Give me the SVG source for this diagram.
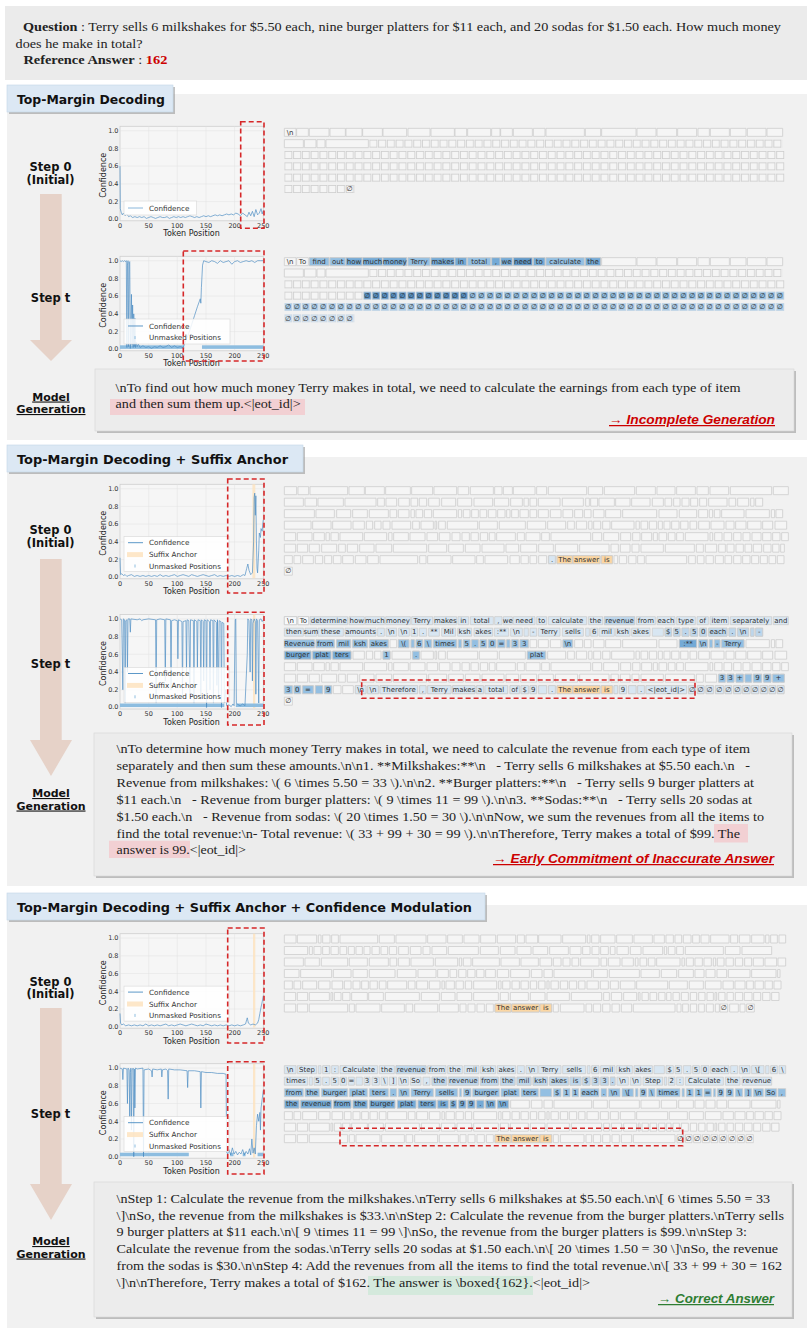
<svg xmlns="http://www.w3.org/2000/svg" width="812" height="1334" viewBox="0 0 812 1334">
<style>
.q{font-family:"Liberation Serif",serif;font-size:13.5px;fill:#222}
.hdr{font-family:"DejaVu Sans",sans-serif;font-weight:bold;font-size:13px;fill:#111}
.step{font-family:"DejaVu Sans",sans-serif;font-weight:bold;font-size:11.5px;fill:#111;text-anchor:middle}
.mg{font-family:"DejaVu Sans",sans-serif;font-weight:bold;font-size:11px;fill:#111;text-anchor:middle;text-decoration:underline}
.gen{font-family:"Liberation Serif",serif;font-size:13.5px;fill:#222}
.res{font-family:"Liberation Sans",sans-serif;font-weight:bold;font-style:italic;font-size:12.5px;text-decoration:underline}
.ty{font-family:"DejaVu Sans",sans-serif;font-size:6.5px;fill:#333;text-anchor:end}
.tx{font-family:"DejaVu Sans",sans-serif;font-size:6.5px;fill:#333;text-anchor:middle}
.axl{font-family:"DejaVu Sans",sans-serif;font-size:8px;fill:#222;text-anchor:middle}
.leg{font-family:"DejaVu Sans",sans-serif;font-size:7.2px;fill:#333}
.pa{fill:#f6f6f6;stroke:#cfcfcf;stroke-width:0.8}
.gr{fill:none;stroke:#e2e2e2;stroke-width:0.5}
.lg{fill:#fff;fill-opacity:0.85;stroke:#d8d8d8;stroke-width:0.6}
.cl{fill:none;stroke:#4a8cc2;stroke-width:0.8;stroke-opacity:0.85;vector-effect:non-scaling-stroke;stroke-linejoin:round}
.um{fill:#8dbde0}
.sa{fill:#fde3bf;fill-opacity:0.85}
.rd{fill:none;stroke:#d62728;stroke-width:1.6;stroke-dasharray:5 3}
.tk{font-family:"DejaVu Sans",sans-serif;font-size:21px;fill:#333;text-anchor:middle}
.b{stroke:#cdcdcd;stroke-width:2.4}
.e{fill:#f5f5f5}.p0{fill:#f7f9fb}.p1{fill:#d8e6f2}.p2{fill:#bcd6ec}.p3{fill:#93bfe2}.p4{fill:#74aad6}.p5{fill:#5f98c9}.po{fill:#fbd6a3}
.arr{fill:#e6d2c8}
</style>
<defs>
<pattern id="cE" patternUnits="userSpaceOnUse" width="26.35" height="24"><rect x="1.2" y="1.2" width="21.6" height="21.6" fill="#f5f5f5" stroke="#cdcdcd" stroke-width="2.4"/></pattern>
<pattern id="cD" patternUnits="userSpaceOnUse" width="26.35" height="24"><rect x="1.2" y="1.2" width="21.6" height="21.6" fill="#5590c4" stroke="#a9bfd3" stroke-width="2.4"/></pattern>
<pattern id="cM" patternUnits="userSpaceOnUse" width="26.35" height="24"><rect x="1.2" y="1.2" width="21.6" height="21.6" fill="#8fbde0" stroke="#b8cde0" stroke-width="2.4"/></pattern>
<pattern id="cM2" patternUnits="userSpaceOnUse" width="26.35" height="24"><rect x="1.2" y="1.2" width="21.6" height="21.6" fill="#a9cbe7" stroke="#c3d5e6" stroke-width="2.4"/></pattern>
<pattern id="cL" patternUnits="userSpaceOnUse" width="26.35" height="24"><rect x="1.2" y="1.2" width="21.6" height="21.6" fill="#cddfee" stroke="#cdd9e4" stroke-width="2.4"/></pattern>
<path id="s1r1" d="M13 0H48V24H13ZM50 0H85V24H50ZM88 0H147V24H88ZM150 0H196V24H150ZM198 0H246V24H198ZM248 0H307V24H248ZM309 0H380V24H309ZM384 0H450V24H384ZM453 0H523V24H453ZM525 0H560V24H525ZM563 0H632V24H563ZM635 0H660V24H635ZM662 0H697V24H662ZM700 0H757V24H700ZM760 0H795V24H760ZM798 0H913V24H798ZM916 0H962V24H916ZM965 0H1068V24H965ZM1071 0H1128V24H1071ZM1131 0H1190V24H1131ZM1193 0H1250V24H1193ZM1254 0H1288V24H1254ZM1291 0H1348V24H1291ZM1351 0H1398V24H1351ZM1402 0H1458V24H1402ZM1461 0H1508V24H1461Z"/>
<path id="s1r2" d="M13 0H70V24H13ZM73 0H108V24H73ZM111 0H135V24H111ZM138 0H265V24H138Z"/>
<path id="s2r1" d="M13 0H50V24H13ZM54 0H86V24H54ZM90 0H203V24H90ZM207 0H253V24H207ZM256 0H313V24H256ZM317 0H391V24H317ZM395 0H458V24H395ZM462 0H530V24H462ZM534 0H566V24H534ZM571 0H640V24H571ZM644 0H666V24H644ZM670 0H697V24H670ZM700 0H765V24H700ZM770 0H800V24H770ZM805 0H920V24H805ZM925 0H968V24H925ZM973 0H1064V24H973ZM1069 0H1126V24H1069ZM1131 0H1185V24H1131ZM1190 0H1246V24H1190ZM1251 0H1285V24H1251ZM1290 0H1346V24H1290ZM1351 0H1475V24H1351ZM1480 0H1525V24H1480Z"/>
<path id="s2r2" d="M13 0H70V24H13ZM75 0H110V24H75ZM114 0H190V24H114ZM195 0H288V24H195ZM293 0H313V24H293ZM318 0H350V24H318ZM356 0H388V24H356ZM393 0H413V24H393ZM418 0H440V24H418ZM446 0H478V24H446ZM485 0H527V24H485ZM533 0H575V24H533ZM582 0H638V24H582ZM643 0H686V24H643ZM692 0H727V24H692ZM732 0H745V24H732ZM750 0H770V24H750ZM775 0H840V24H775ZM847 0H910V24H847ZM917 0H928V24H917ZM932 0H953V24H932ZM957 0H1003V24H957ZM1007 0H1050V24H1007ZM1055 0H1110V24H1055ZM1117 0H1150V24H1117ZM1155 0H1175V24H1155ZM1181 0H1200V24H1181ZM1206 0H1227V24H1206ZM1232 0H1253V24H1232ZM1259 0H1280V24H1259ZM1286 0H1341V24H1286ZM1347 0H1367V24H1347ZM1373 0H1406V24H1373ZM1412 0H1422V24H1412ZM1427 0H1448V24H1427Z"/>
<path id="s2r3" d="M13 0H103V24H13ZM108 0H163V24H108ZM170 0H212V24H170ZM218 0H262V24H218ZM268 0H325V24H268ZM330 0H350V24H330ZM355 0H387V24H355ZM393 0H403V24H393ZM408 0H428V24H408ZM433 0H455V24H433ZM460 0H530V24H460ZM535 0H545V24H535ZM550 0H570V24H550ZM575 0H595V24H575ZM600 0H620V24H600ZM625 0H648V24H625ZM653 0H675V24H653ZM680 0H690V24H680ZM695 0H715V24H695ZM720 0H745V24H720ZM750 0H770V24H750ZM775 0H805V24H775ZM811 0H843V24H811ZM849 0H878V24H849ZM884 0H908V24H884ZM913 0H933V24H913ZM940 0H972V24H940ZM977 0H1022V24H977ZM1028 0H1130V24H1028ZM1137 0H1191V24H1137ZM1198 0H1250V24H1198ZM1256 0H1283V24H1256ZM1288 0H1298V24H1288ZM1303 0H1320V24H1303ZM1325 0H1392V24H1325ZM1398 0H1468V24H1398ZM1474 0H1484V24H1474ZM1488 0H1508V24H1488Z"/>
<path id="s2r4" d="M13 0H93V24H13ZM98 0H153V24H98ZM158 0H213V24H158ZM219 0H253V24H219ZM259 0H278V24H259ZM284 0H303V24H284ZM309 0H330V24H309ZM336 0H392V24H336ZM398 0H418V24H398ZM423 0H460V24H423ZM465 0H470V24H465ZM476 0H496V24H476ZM502 0H593V24H502ZM598 0H652V24H598ZM658 0H736V24H658ZM742 0H797V24H742ZM803 0H857V24H803ZM863 0H883V24H863ZM889 0H920V24H889ZM926 0H936V24H926ZM941 0H962V24H941ZM968 0H990V24H968ZM995 0H1062V24H995ZM1068 0H1078V24H1068ZM1083 0H1103V24H1083ZM1108 0H1130V24H1108ZM1135 0H1147V24H1135ZM1152 0H1170V24H1152ZM1175 0H1197V24H1175ZM1202 0H1224V24H1202ZM1230 0H1250V24H1230ZM1256 0H1288V24H1256ZM1293 0H1332V24H1293ZM1338 0H1362V24H1338ZM1367 0H1398V24H1367ZM1403 0H1443V24H1403ZM1448 0H1478V24H1448ZM1485 0H1520V24H1485Z"/>
<path id="s2r5" d="M13 0H47V24H13ZM52 0H96V24H52ZM101 0H133V24H101ZM138 0H148V24H138ZM153 0H175V24H153ZM180 0H248V24H180ZM253 0H320V24H253ZM326 0H336V24H326ZM341 0H385V24H341ZM390 0H435V24H390ZM441 0H473V24H441ZM478 0H510V24H478ZM516 0H540V24H516ZM546 0H568V24H546ZM573 0H595V24H573ZM601 0H623V24H601ZM628 0H645V24H628ZM650 0H706V24H650ZM712 0H733V24H712ZM738 0H780V24H738ZM785 0H808V24H785ZM813 0H932V24H813ZM938 0H965V24H938ZM971 0H1016V24H971ZM1022 0H1052V24H1022ZM1058 0H1080V24H1058ZM1085 0H1115V24H1085ZM1120 0H1132V24H1120ZM1137 0H1160V24H1137ZM1165 0H1185V24H1165ZM1190 0H1210V24H1190ZM1216 0H1284V24H1216ZM1290 0H1298V24H1290ZM1304 0H1326V24H1304ZM1332 0H1355V24H1332ZM1361 0H1383V24H1361ZM1389 0H1410V24H1389ZM1416 0H1443V24H1416ZM1448 0H1473V24H1448ZM1478 0H1500V24H1478ZM1505 0H1525V24H1505Z"/>
<path id="s2r6" d="M13 0H47V24H13ZM52 0H83V24H52ZM88 0H118V24H88ZM125 0H170V24H125ZM176 0H196V24H176ZM202 0H233V24H202ZM239 0H282V24H239ZM288 0H335V24H288ZM340 0H440V24H340ZM446 0H500V24H446ZM506 0H550V24H506ZM556 0H600V24H556ZM606 0H672V24H606ZM678 0H716V24H678ZM722 0H770V24H722ZM776 0H820V24H776ZM826 0H893V24H826ZM899 0H987V24H899ZM993 0H1015V24H993ZM1021 0H1050V24H1021ZM1056 0H1077V24H1056ZM1083 0H1150V24H1083ZM1156 0H1243V24H1156ZM1249 0H1270V24H1249ZM1276 0H1310V24H1276ZM1316 0H1336V24H1316ZM1341 0H1362V24H1341ZM1368 0H1390V24H1368ZM1395 0H1415V24H1395ZM1420 0H1445V24H1420ZM1451 0H1473V24H1451ZM1478 0H1497V24H1478ZM1502 0H1513V24H1502Z"/>
<path id="s2r7" d="M13 0H37V24H13ZM42 0H62V24H42ZM68 0H100V24H68ZM106 0H128V24H106ZM134 0H155V24H134ZM160 0H183V24H160ZM188 0H220V24H188ZM226 0H258V24H226ZM263 0H295V24H263ZM300 0H413V24H300ZM419 0H438V24H419ZM443 0H513V24H443ZM518 0H585V24H518ZM590 0H610V24H590ZM615 0H683V24H615ZM690 0H718V24H690ZM723 0H745V24H723ZM750 0H770V24H750ZM776 0H800V24H776ZM806 0H826V24H806ZM831 0H877V24H831ZM879 0H960V24H879ZM964 0H997V24H964ZM1002 0H1013V24H1002ZM1018 0H1040V24H1018ZM1046 0H1068V24H1046ZM1073 0H1093V24H1073ZM1098 0H1220V24H1098ZM1226 0H1246V24H1226ZM1252 0H1272V24H1252ZM1278 0H1300V24H1278ZM1306 0H1330V24H1306ZM1335 0H1355V24H1335ZM1361 0H1383V24H1361ZM1388 0H1410V24H1388ZM1415 0H1436V24H1415ZM1441 0H1462V24H1441ZM1467 0H1487V24H1467ZM1492 0H1512V24H1492Z"/>
<path id="s3r1" d="M13 0H48V24H13ZM52 0H110V24H52ZM115 0H123V24H115ZM128 0H150V24H128ZM155 0H175V24H155ZM180 0H293V24H180ZM298 0H343V24H298ZM348 0H438V24H348ZM443 0H498V24H443ZM503 0H547V24H503ZM552 0H597V24H552ZM602 0H647V24H602ZM652 0H707V24H652ZM712 0H733V24H712ZM738 0H773V24H738ZM776 0H843V24H776ZM848 0H917V24H848ZM922 0H930V24H922ZM935 0H957V24H935ZM962 0H1005V24H962ZM1010 0H1057V24H1010ZM1062 0H1117V24H1062ZM1122 0H1153V24H1122ZM1158 0H1180V24H1158ZM1185 0H1205V24H1185ZM1210 0H1233V24H1210ZM1238 0H1258V24H1238ZM1263 0H1287V24H1263ZM1292 0H1347V24H1292ZM1352 0H1373V24H1352ZM1378 0H1410V24H1378ZM1415 0H1452V24H1415ZM1457 0H1467V24H1457ZM1472 0H1492V24H1472ZM1497 0H1517V24H1497Z"/>
<path id="s3r2" d="M13 0H83V24H13ZM88 0H97V24H88ZM102 0H123V24H102ZM128 0H148V24H128ZM153 0H175V24H153ZM180 0H200V24H180ZM205 0H223V24H205ZM228 0H247V24H228ZM252 0H270V24H252ZM276 0H298V24H276ZM303 0H323V24H303ZM328 0H350V24H328ZM356 0H385V24H356ZM391 0H423V24H391ZM429 0H450V24H429ZM456 0H500V24H456ZM505 0H595V24H505ZM601 0H655V24H601ZM661 0H705V24H661ZM711 0H753V24H711ZM759 0H803V24H759ZM809 0H865V24H809ZM870 0H903V24H870ZM908 0H930V24H908ZM936 0H957V24H936ZM962 0H985V24H962ZM991 0H1005V24H991ZM1011 0H1045V24H1011ZM1051 0H1083V24H1051ZM1089 0H1148V24H1089ZM1153 0H1160V24H1153ZM1165 0H1185V24H1165ZM1190 0H1210V24H1190ZM1216 0H1330V24H1216ZM1336 0H1380V24H1336ZM1386 0H1475V24H1386Z"/>
<path id="s3r3" d="M13 0H70V24H13ZM75 0H118V24H75ZM124 0H203V24H124ZM208 0H262V24H208ZM268 0H325V24H268ZM330 0H350V24H330ZM355 0H388V24H355ZM393 0H460V24H393ZM466 0H533V24H466ZM538 0H545V24H538ZM550 0H573V24H550ZM578 0H658V24H578ZM663 0H718V24H663ZM723 0H775V24H723ZM780 0H815V24H780ZM820 0H843V24H820ZM849 0H870V24H849ZM876 0H896V24H876ZM902 0H957V24H902ZM963 0H980V24H963ZM985 0H1020V24H985ZM1026 0H1060V24H1026ZM1066 0H1074V24H1066ZM1080 0H1100V24H1080ZM1105 0H1125V24H1105ZM1130 0H1200V24H1130ZM1206 0H1213V24H1206ZM1219 0H1240V24H1219ZM1245 0H1267V24H1245ZM1272 0H1294V24H1272ZM1300 0H1307V24H1300ZM1312 0H1332V24H1312ZM1338 0H1360V24H1338ZM1366 0H1388V24H1366ZM1394 0H1415V24H1394ZM1420 0H1450V24H1420ZM1455 0H1490V24H1455ZM1494 0H1517V24H1494Z"/>
<path id="s3r4" d="M13 0H57V24H13ZM62 0H155V24H62ZM160 0H213V24H160ZM219 0H262V24H219ZM268 0H345V24H268ZM352 0H408V24H352ZM414 0H468V24H414ZM473 0H505V24H473ZM510 0H530V24H510ZM536 0H558V24H536ZM563 0H585V24H563ZM590 0H612V24H590ZM617 0H646V24H617ZM652 0H686V24H652ZM692 0H748V24H692ZM754 0H786V24H754ZM792 0H817V24H792ZM822 0H935V24H822ZM940 0H982V24H940ZM988 0H1078V24H988ZM1083 0H1138V24H1083ZM1144 0H1190V24H1144ZM1196 0H1240V24H1196ZM1245 0H1272V24H1245ZM1278 0H1305V24H1278ZM1311 0H1340V24H1311ZM1345 0H1410V24H1345ZM1415 0H1488V24H1415ZM1493 0H1500V24H1493Z"/>
<path id="s3r5" d="M13 0H37V24H13ZM42 0H62V24H42ZM68 0H110V24H68ZM116 0H150V24H116ZM156 0H188V24H156ZM193 0H213V24H193ZM219 0H240V24H219ZM245 0H265V24H245ZM270 0H292V24H270ZM298 0H318V24H298ZM323 0H380V24H323ZM385 0H405V24H385ZM410 0H443V24H410ZM448 0H480V24H448ZM486 0H493V24H486ZM498 0H523V24H498ZM528 0H550V24H528ZM556 0H575V24H556ZM581 0H650V24H581ZM656 0H663V24H656ZM668 0H690V24H668ZM696 0H718V24H696ZM723 0H745V24H723ZM751 0H770V24H751ZM776 0H795V24H776ZM801 0H807V24H801ZM813 0H835V24H813ZM841 0H863V24H841ZM868 0H890V24H868ZM896 0H915V24H896ZM921 0H955V24H921ZM961 0H985V24H961ZM991 0H1015V24H991ZM1021 0H1065V24H1021ZM1070 0H1163V24H1070ZM1168 0H1222V24H1168ZM1228 0H1270V24H1228ZM1276 0H1323V24H1276ZM1329 0H1360V24H1329ZM1365 0H1395V24H1365ZM1400 0H1420V24H1400ZM1425 0H1450V24H1425ZM1455 0H1477V24H1455ZM1482 0H1503V24H1482Z"/>
<path id="s3r6" d="M13 0H47V24H13ZM52 0H83V24H52ZM88 0H148V24H88ZM153 0H158V24H153ZM163 0H183V24H163ZM188 0H210V24H188ZM215 0H262V24H215ZM266 0H310V24H266ZM316 0H418V24H316ZM424 0H478V24H424ZM484 0H525V24H484ZM531 0H575V24H531ZM581 0H655V24H581ZM661 0H685V24H661ZM691 0H745V24H691ZM751 0H795V24H751ZM801 0H868V24H801ZM874 0H965V24H874ZM971 0H988V24H971ZM994 0H1025V24H994ZM1031 0H1070V24H1031ZM1075 0H1080V24H1075ZM1086 0H1105V24H1086ZM1110 0H1130V24H1110ZM1136 0H1155V24H1136ZM1160 0H1173V24H1160ZM1179 0H1198V24H1179ZM1204 0H1225V24H1204ZM1231 0H1250V24H1231ZM1256 0H1275V24H1256ZM1281 0H1300V24H1281ZM1305 0H1310V24H1305ZM1316 0H1335V24H1316ZM1341 0H1360V24H1341ZM1366 0H1388V24H1366ZM1393 0H1416V24H1393ZM1421 0H1442V24H1421ZM1448 0H1470V24H1448ZM1475 0H1497V24H1475Z"/>
<path id="s3r7a" d="M13 0H47V24H13ZM52 0H83V24H52ZM88 0H203V24H88ZM208 0H223V24H208ZM228 0H300V24H228ZM305 0H373V24H305ZM378 0H398V24H378ZM404 0H473V24H404ZM478 0H535V24H478ZM540 0H558V24H540ZM564 0H585V24H564ZM591 0H613V24H591ZM619 0H640V24H619ZM645 0H693V24H645ZM695 0H778V24H695ZM780 0H815V24H780ZM820 0H835V24H820ZM841 0H912V24H841ZM918 0H935V24H918ZM940 0H962V24H940ZM968 0H990V24H968ZM996 0H1018V24H996ZM1024 0H1055V24H1024ZM1060 0H1185V24H1060Z"/>
<path id="s3r7b" d="M1191 0H1203V24H1191ZM1208 0H1225V24H1208ZM1231 0H1250V24H1231ZM1256 0H1273V24H1256ZM1279 0H1300V24H1279ZM1306 0H1318V24H1306ZM1320 0H1343V24H1320ZM1349 0H1375V24H1349ZM1380 0H1395V24H1380ZM1400 0H1423V24H1400Z"/>
<path id="po3" d="M831 0H877V24H831ZM879 0H960V24H879ZM964 0H997V24H964Z"/>
</defs>

<rect width="812" height="1334" fill="#fff"/>

<!-- Question -->
<g id="question">
<rect x="5" y="6" width="802" height="74" fill="#ebebeb"/>
<text class="q" x="23" y="31" textLength="758" lengthAdjust="spacingAndGlyphs"><tspan font-weight="bold">Question</tspan> : Terry sells 6 milkshakes for $5.50 each, nine burger platters for $11 each, and 20 sodas for $1.50 each. How much money</text>
<text class="q" x="15.6" y="47.5" textLength="127" lengthAdjust="spacingAndGlyphs">does he make in total?</text>
<text class="q" x="23.4" y="64" textLength="144" lengthAdjust="spacingAndGlyphs"><tspan font-weight="bold">Reference Answer</tspan> : <tspan font-weight="bold" fill="#cc0000">162</tspan></text>
</g>

<!-- Section backgrounds and headers -->
<g id="sections">
<rect x="7" y="94" width="800" height="346" fill="#f1f1f1"/>
<rect x="7" y="457" width="800" height="429" fill="#f1f1f1"/>
<rect x="7" y="905" width="800" height="423" fill="#f1f1f1"/>
</g>
<g id="header-1">
<rect x="9" y="87" width="166" height="27" fill="#9a9a9a" opacity="0.6"/>
<rect x="7" y="85" width="166" height="27" fill="#dce8f4" stroke="#c4d5e7" stroke-width="0.6"/>
<text class="hdr" x="17" y="103.5" textLength="148" lengthAdjust="spacingAndGlyphs">Top-Margin Decoding</text>
</g>
<g id="header-2">
<rect x="9" y="447" width="296" height="27" fill="#9a9a9a" opacity="0.6"/>
<rect x="7" y="445" width="296" height="27" fill="#dce8f4" stroke="#c4d5e7" stroke-width="0.6"/>
<text class="hdr" x="17" y="464" textLength="271" lengthAdjust="spacingAndGlyphs">Top-Margin Decoding + Suffix Anchor</text>
</g>
<g id="header-3">
<rect x="9" y="895" width="478" height="27" fill="#9a9a9a" opacity="0.6"/>
<rect x="7" y="893" width="478" height="27" fill="#dce8f4" stroke="#c4d5e7" stroke-width="0.6"/>
<text class="hdr" x="17" y="912" textLength="455" lengthAdjust="spacingAndGlyphs">Top-Margin Decoding + Suffix Anchor + Confidence Modulation</text>
</g>

<!-- Connectors: step arrows -->
<g id="connectors">
<rect class="arr" x="40" y="194" width="21.7" height="146"/>
<polygon class="arr" points="30,340 72,340 51,361"/>
<rect class="arr" x="40" y="559" width="21.7" height="181"/>
<polygon class="arr" points="30,740 72,740 51,776"/>
<rect class="arr" x="40" y="1008" width="21.7" height="176"/>
<polygon class="arr" points="30,1184 72,1184 51,1220"/>
</g>

<!-- Step labels -->
<g id="labels">
<text class="step" x="50.5" y="171">Step 0</text>
<text class="step" x="50.5" y="183.5">(Initial)</text>
<text class="step" x="50.5" y="302">Step t</text>
<text class="mg" x="51" y="400.5">Model</text>
<text class="mg" x="51" y="413">Generation</text>
<text class="step" x="50.5" y="534">Step 0</text>
<text class="step" x="50.5" y="546.5">(Initial)</text>
<text class="step" x="50.5" y="668">Step t</text>
<text class="mg" x="51" y="797">Model</text>
<text class="mg" x="51" y="809.5">Generation</text>
<text class="step" x="50.5" y="985.5">Step 0</text>
<text class="step" x="50.5" y="998">(Initial)</text>
<text class="step" x="50.5" y="1118">Step t</text>
<text class="mg" x="51" y="1245">Model</text>
<text class="mg" x="51" y="1257.5">Generation</text>
</g>

<!-- Chart S1 step 0 -->
<g id="chart-s1-step0" transform="translate(120,219.3)">
<rect class="pa" x="0" y="-93" width="143.3" height="94.5"/>
<path class="gr" d="M28.7-93V1.5M57.3-93V1.5M86-93V1.5M114.6-93V1.5M0-17.7H143.3M0-35.4H143.3M0-53.2H143.3M0-70.9H143.3M0-88.6H143.3"/>
<text class="ty" x="-1.5" y="1.8">0.0</text><text class="ty" x="-1.5" y="-15.4">0.2</text><text class="ty" x="-1.5" y="-33.1">0.4</text><text class="ty" x="-1.5" y="-50.9">0.6</text><text class="ty" x="-1.5" y="-68.6">0.8</text><text class="ty" x="-1.5" y="-86.3">1.0</text>
<text class="tx" x="0" y="8.4">0</text><text class="tx" x="28.7" y="8.4">50</text><text class="tx" x="57.3" y="8.4">100</text><text class="tx" x="86" y="8.4">150</text><text class="tx" x="114.6" y="8.4">200</text><text class="tx" x="143.3" y="8.4">250</text>
<text class="axl" x="71.6" y="17">Token Position</text>
<text class="axl" transform="translate(-14.5,-44) rotate(-90)">Confidence</text>
<g transform="scale(0.5733,-0.886)">
<polyline class="cl" points="0,60 0.5,12 2,8 4,5 6,7 9,4 12,6 15,3 18,4 22,2 26,3 30,2 34,3 38,2 42,3 46,1 50,2 54,3 58,2 62,1 66,2 70,3 74,2 78,2 82,3 86,1 90,2 94,3 98,2 102,3 106,2 110,3 114,2 118,3 122,4 126,3 130,2 134,3 138,2 142,3 146,4 150,3 154,4 158,3 162,4 166,5 170,4 174,5 178,4 182,5 186,6 190,5 194,6 198,5 202,7 206,6 210,4 214,7 218,5 222,3 225,8 228,4 231,9 234,3 237,11 240,5 243,7 246,12 248,6 250,10"/>
</g>
<rect class="lg" x="4" y="-18.3" width="72.7" height="14"/>
<line x1="8" y1="-11.3" x2="23" y2="-11.3" stroke="#7fb0d8" stroke-width="0.9"/>
<text class="leg" x="29" y="-8.8">Confidence</text>
</g>

<!-- Chart S1 step t -->
<g id="chart-s1-stept" transform="translate(120,349.3)">
<rect class="pa" x="0" y="-93" width="143.3" height="94.5"/>
<path class="gr" d="M28.7-93V1.5M57.3-93V1.5M86-93V1.5M114.6-93V1.5M0-17.7H143.3M0-35.4H143.3M0-53.2H143.3M0-70.9H143.3M0-88.6H143.3"/>
<text class="ty" x="-1.5" y="1.8">0.0</text><text class="ty" x="-1.5" y="-15.4">0.2</text><text class="ty" x="-1.5" y="-33.1">0.4</text><text class="ty" x="-1.5" y="-50.9">0.6</text><text class="ty" x="-1.5" y="-68.6">0.8</text><text class="ty" x="-1.5" y="-86.3">1.0</text>
<text class="tx" x="0" y="8.4">0</text><text class="tx" x="28.7" y="8.4">50</text><text class="tx" x="57.3" y="8.4">100</text><text class="tx" x="86" y="8.4">150</text><text class="tx" x="114.6" y="8.4">200</text><text class="tx" x="143.3" y="8.4">250</text>
<text class="axl" x="71.6" y="17">Token Position</text>
<text class="axl" transform="translate(-14.5,-44) rotate(-90)">Confidence</text>
<g transform="scale(0.5733,-0.886)">
<rect class="um" x="0" y="0.5" width="112" height="4"/>
<rect class="um" x="143" y="0.5" width="107" height="4"/>
<polyline class="cl" points="0,100 2,99 4,100 6,99 8,100 10,99 11,100 12,2 13,95 14,100 15,3 16,98 17,99 18,1 20,62 21,5 22,50 23,2 24,40 25,3 26,35 27,2 28,8 30,3 32,6 35,2 40,4 45,2 50,3 55,1 60,3 65,2 70,4 75,2 80,3 85,5 90,2 95,4 100,2 105,3 110,2 112,5 115,10 120,18 125,28 130,38 135,48 140,57 141,52 142,70 144,95 146,100 150,99 155,98 160,100 165,99 170,97 175,100 180,98 185,99 190,100 195,96 200,99 205,100 210,98 215,99 220,100 225,99 230,100 235,98 240,100 245,100 250,100"/>
</g>
<rect class="lg" x="4" y="-30.3" width="106" height="25"/>
<line x1="8" y1="-23.3" x2="23" y2="-23.3" stroke="#4a8cc2" stroke-width="0.9"/>
<text class="leg" x="29" y="-20.8">Confidence</text>
<rect class="um" x="14.5" y="-13.2" width="1" height="3"/>
<text class="leg" x="29" y="-9.1">Unmasked Positions</text>
</g>

<!-- Chart S2 step 0 -->
<g id="chart-s2-step0" transform="translate(120,577.3)">
<rect class="pa" x="0" y="-93" width="143.3" height="94.5"/>
<path class="gr" d="M28.7-93V1.5M57.3-93V1.5M86-93V1.5M114.6-93V1.5M0-17.7H143.3M0-35.4H143.3M0-53.2H143.3M0-70.9H143.3M0-88.6H143.3"/>
<text class="ty" x="-1.5" y="1.8">0.0</text><text class="ty" x="-1.5" y="-15.4">0.2</text><text class="ty" x="-1.5" y="-33.1">0.4</text><text class="ty" x="-1.5" y="-50.9">0.6</text><text class="ty" x="-1.5" y="-68.6">0.8</text><text class="ty" x="-1.5" y="-86.3">1.0</text>
<text class="tx" x="0" y="8.4">0</text><text class="tx" x="28.7" y="8.4">50</text><text class="tx" x="57.3" y="8.4">100</text><text class="tx" x="86" y="8.4">150</text><text class="tx" x="114.6" y="8.4">200</text><text class="tx" x="143.3" y="8.4">250</text>
<text class="axl" x="71.6" y="17">Token Position</text>
<text class="axl" transform="translate(-14.5,-44) rotate(-90)">Confidence</text>
<g transform="scale(0.5733,-0.886)">
<rect class="sa" x="231" y="-1" width="5" height="106"/>
<polyline class="cl" points="0,22 1,3 3,4 6,2 9,3 12,1 15,2 20,3 25,1 30,2 35,1 40,2 45,1 50,2 55,1 60,2 65,1 70,3 75,1 80,2 85,1 90,2 95,3 100,1 105,2 110,3 115,2 120,1 125,3 130,2 135,1 140,2 145,3 150,2 155,1 160,2 165,3 170,1 175,2 180,1 185,2 190,1 195,2 200,1 205,2 210,1 215,3 218,2 221,10 223,15 225,8 228,3 231,5 233,40 234,90 235,95 236,70 237,92 238,40 239,10 240,5 242,30 243,50 245,45 246,55 248,52 249,60 250,65"/>
</g>
<rect class="lg" x="4" y="-40.6" width="105" height="35"/>
<line x1="8" y1="-34.6" x2="23" y2="-34.6" stroke="#4a8cc2" stroke-width="0.9"/>
<text class="leg" x="29" y="-32.1">Confidence</text>
<rect class="sa" x="7" y="-25.2" width="16" height="5"/>
<text class="leg" x="29" y="-20.1">Suffix Anchor</text>
<rect class="um" x="14.5" y="-12.8" width="1" height="3"/>
<text class="leg" x="29" y="-8.8">Unmasked Positions</text>
</g>

<!-- Chart S2 step t -->
<g id="chart-s2-stept" transform="translate(120,707.5)">
<rect class="pa" x="0" y="-93" width="143.3" height="94.5"/>
<path class="gr" d="M28.7-93V1.5M57.3-93V1.5M86-93V1.5M114.6-93V1.5M0-17.7H143.3M0-35.4H143.3M0-53.2H143.3M0-70.9H143.3M0-88.6H143.3"/>
<text class="ty" x="-1.5" y="1.8">0.0</text><text class="ty" x="-1.5" y="-15.4">0.2</text><text class="ty" x="-1.5" y="-33.1">0.4</text><text class="ty" x="-1.5" y="-50.9">0.6</text><text class="ty" x="-1.5" y="-68.6">0.8</text><text class="ty" x="-1.5" y="-86.3">1.0</text>
<text class="tx" x="0" y="8.4">0</text><text class="tx" x="28.7" y="8.4">50</text><text class="tx" x="57.3" y="8.4">100</text><text class="tx" x="86" y="8.4">150</text><text class="tx" x="114.6" y="8.4">200</text><text class="tx" x="143.3" y="8.4">250</text>
<text class="axl" x="71.6" y="17">Token Position</text>
<text class="axl" transform="translate(-14.5,-44) rotate(-90)">Confidence</text>
<g transform="scale(0.5733,-0.886)">
<rect class="sa" x="232" y="-1" width="4" height="106"/>
<rect class="um" x="0" y="0.5" width="182" height="4"/>
<rect class="um" x="202" y="0.5" width="48" height="4"/>
<polyline class="cl" points="0,100 3,99 5,20 6,100 8,99 9,5 10,98 12,99 13,40 14,100 17,100 18,85 19,100 30,99 35,100 38,98 40,99 50,100 62,99 63,5 64,99 70,100 78,99 79,30 80,100 88,99 89,20 90,98 95,99 100,98 101,55 102,99 108,97 109,10 110,97 115,98 116,40 117,99 120,98 122,15 123,99 128,98 129,5 130,99 134,97 135,45 136,99 140,98 141,10 142,99 145,97 146,30 147,99 150,98 151,0 152,99 156,97 157,20 158,99 162,98 163,5 164,99 168,96 169,25 170,99 172,10 173,98 176,97 177,0 178,96 181,95 182,5 184,20 186,2 190,3 194,1 197,4 199,2 201,99 202,100 203,5 206,3 210,2 214,4 218,2 222,60 223,100 225,98 227,40 228,100 230,99 231,30 232,95 234,100 236,97 237,15 238,100 240,98 242,5 243,99 246,100 248,97 250,99"/>
</g>
<rect class="lg" x="4" y="-40" width="105" height="35"/>
<line x1="8" y1="-34" x2="23" y2="-34" stroke="#4a8cc2" stroke-width="0.9"/>
<text class="leg" x="29" y="-31.5">Confidence</text>
<rect class="sa" x="7" y="-24.6" width="16" height="5"/>
<text class="leg" x="29" y="-19.5">Suffix Anchor</text>
<rect class="um" x="14.5" y="-12.2" width="1" height="3"/>
<text class="leg" x="29" y="-8.2">Unmasked Positions</text>
</g>

<!-- Chart S3 step 0 -->
<g id="chart-s3-step0" transform="translate(120,1026.7)">
<rect class="pa" x="0" y="-93" width="143.3" height="94.5"/>
<path class="gr" d="M28.7-93V1.5M57.3-93V1.5M86-93V1.5M114.6-93V1.5M0-17.7H143.3M0-35.4H143.3M0-53.2H143.3M0-70.9H143.3M0-88.6H143.3"/>
<text class="ty" x="-1.5" y="1.8">0.0</text><text class="ty" x="-1.5" y="-15.4">0.2</text><text class="ty" x="-1.5" y="-33.1">0.4</text><text class="ty" x="-1.5" y="-50.9">0.6</text><text class="ty" x="-1.5" y="-68.6">0.8</text><text class="ty" x="-1.5" y="-86.3">1.0</text>
<text class="tx" x="0" y="8.4">0</text><text class="tx" x="28.7" y="8.4">50</text><text class="tx" x="57.3" y="8.4">100</text><text class="tx" x="86" y="8.4">150</text><text class="tx" x="114.6" y="8.4">200</text><text class="tx" x="143.3" y="8.4">250</text>
<text class="axl" x="71.6" y="17">Token Position</text>
<text class="axl" transform="translate(-14.5,-44) rotate(-90)">Confidence</text>
<g transform="scale(0.5733,-0.886)">
<rect class="sa" x="232" y="-1" width="4" height="106"/>
<polyline class="cl" points="0,15 1,4 3,2 6,3 10,1 15,2 20,1 25,2 30,1 35,2 40,1 45,3 50,1 55,2 60,1 65,2 70,1 75,2 80,3 85,1 90,2 95,1 100,2 105,3 110,2 115,1 120,2 125,3 130,2 135,1 140,2 145,1 150,3 155,2 160,1 165,2 170,1 175,2 180,1 185,2 190,1 195,2 200,1 205,2 210,1 215,2 219,3 221,8 222,10 224,4 228,2 232,3 236,2 240,4 242,8 244,15 246,22 248,28 250,35"/>
</g>
<rect class="lg" x="4" y="-40.6" width="105" height="35"/>
<line x1="8" y1="-34.6" x2="23" y2="-34.6" stroke="#4a8cc2" stroke-width="0.9"/>
<text class="leg" x="29" y="-32.1">Confidence</text>
<rect class="sa" x="7" y="-25.2" width="16" height="5"/>
<text class="leg" x="29" y="-20.1">Suffix Anchor</text>
<rect class="um" x="14.5" y="-12.8" width="1" height="3"/>
<text class="leg" x="29" y="-8.8">Unmasked Positions</text>
</g>

<!-- Chart S3 step t -->
<g id="chart-s3-stept" transform="translate(120,1156.7)">
<rect class="pa" x="0" y="-93" width="143.3" height="94.5"/>
<path class="gr" d="M28.7-93V1.5M57.3-93V1.5M86-93V1.5M114.6-93V1.5M0-17.7H143.3M0-35.4H143.3M0-53.2H143.3M0-70.9H143.3M0-88.6H143.3"/>
<text class="ty" x="-1.5" y="1.8">0.0</text><text class="ty" x="-1.5" y="-15.4">0.2</text><text class="ty" x="-1.5" y="-33.1">0.4</text><text class="ty" x="-1.5" y="-50.9">0.6</text><text class="ty" x="-1.5" y="-68.6">0.8</text><text class="ty" x="-1.5" y="-86.3">1.0</text>
<text class="tx" x="0" y="8.4">0</text><text class="tx" x="28.7" y="8.4">50</text><text class="tx" x="57.3" y="8.4">100</text><text class="tx" x="86" y="8.4">150</text><text class="tx" x="114.6" y="8.4">200</text><text class="tx" x="143.3" y="8.4">250</text>
<text class="axl" x="71.6" y="17">Token Position</text>
<text class="axl" transform="translate(-14.5,-44) rotate(-90)">Confidence</text>
<g transform="scale(0.5733,-0.886)">
<rect class="sa" x="232" y="-1" width="4" height="106"/>
<rect class="um" x="0" y="0.5" width="120" height="4"/>
<rect class="um" x="192" y="0.5" width="6" height="4"/><rect class="um" x="214" y="0.5" width="5" height="4"/><rect class="um" x="240" y="0.5" width="10" height="4"/>
<polyline class="cl" points="0,100 4,99 5,87 6,100 12,99 13,60 14,100 16,98 17,45 18,95 19,100 20,30 21,98 22,99 23,100 24,0 25,99 26,55 27,100 30,99 40,100 41,0 42,98 50,99 55,97 56,90 57,99 65,98 72,99 73,90 74,98 80,99 83,97 84,65 85,99 95,98 105,98 117,97 118,78 119,97 130,97 140,96 141,55 142,96 150,95 160,95 170,94 180,94 185,93 186,5 188,3 190,8 193,2 196,10 199,3 202,6 205,2 208,5 211,3 214,8 217,2 220,6 223,3 226,9 228,2 230,20 232,4 234,10 236,3 238,35 240,48 242,40 244,50 245,30 246,55 248,65 250,75"/>
</g>
<rect class="lg" x="4" y="-40" width="105" height="35"/>
<line x1="8" y1="-34" x2="23" y2="-34" stroke="#4a8cc2" stroke-width="0.9"/>
<text class="leg" x="29" y="-31.5">Confidence</text>
<rect class="sa" x="7" y="-24.6" width="16" height="5"/>
<text class="leg" x="29" y="-19.5">Suffix Anchor</text>
<rect class="um" x="14.5" y="-12.2" width="1" height="3"/>
<text class="leg" x="29" y="-8.2">Unmasked Positions</text>
</g>

<!-- Tokens S1 -->
<g id="tokens-s1" transform="translate(280,115) scale(0.333333)">
<use href="#s1r1" y="40" class="b e"/>
<use href="#s1r2" y="74" class="b e"/>
<rect transform="translate(268,74)" width="1238.4" height="24" fill="url(#cE)"/>
<rect transform="translate(13,108)" width="1502" height="24" fill="url(#cE)"/>
<rect transform="translate(13,142)" width="1502" height="24" fill="url(#cE)"/>
<rect transform="translate(13,176)" width="1502" height="24" fill="url(#cE)"/>
<rect transform="translate(13,210)" width="210.8" height="24" fill="url(#cE)"/>
<text class="tk" x="30.5" y="59">\n</text>
<text class="tk" x="208.5" y="229">∅</text>

<use href="#s1r1" y="428" class="b e"/>
<path class="b p3" transform="translate(0,428)" d="M88 0H147V24H88ZM150 0H196V24H150ZM384 0H450V24H384ZM563 0H632V24H563ZM798 0H913V24H798Z"/>
<path class="b p4" transform="translate(0,428)" d="M198 0H246V24H198ZM248 0H307V24H248ZM309 0H380V24H309ZM453 0H523V24H453ZM525 0H560V24H525ZM635 0H660V24H635ZM662 0H697V24H662ZM760 0H795V24H760ZM916 0H962V24H916Z"/>
<path class="b p5" transform="translate(0,428)" d="M700 0H757V24H700Z"/>
<text class="tk" y="447"><tspan x="30.5">\n</tspan><tspan x="67.5">To</tspan><tspan x="117.5">find</tspan><tspan x="173">out</tspan><tspan x="222">how</tspan><tspan x="277.5">much</tspan><tspan x="344.5">money</tspan><tspan x="417">Terry</tspan><tspan x="488">makes</tspan><tspan x="542.5">in</tspan><tspan x="597.5">total</tspan><tspan x="647.5">,</tspan><tspan x="679.5">we</tspan><tspan x="728.5">need</tspan><tspan x="777.5">to</tspan><tspan x="855.5">calculate</tspan><tspan x="939">the</tspan></text>
<use href="#s1r2" y="462" class="b e"/>
<rect transform="translate(268,462)" width="1238.4" height="24" fill="url(#cE)"/>
<rect transform="translate(13,496)" width="1502" height="24" fill="url(#cE)"/>
<rect transform="translate(13,530)" width="237.15" height="24" fill="url(#cE)"/>
<rect transform="translate(250.15,530)" width="316.2" height="24" fill="url(#cD)"/>
<rect transform="translate(566.35,530)" width="948.6" height="24" fill="url(#cM)"/>
<rect transform="translate(13,564)" width="1502" height="24" fill="url(#cM2)"/>
<rect transform="translate(13,598)" width="210.8" height="24" fill="url(#cL)"/>
<text class="tk" y="549" x="261.2 287.5 313.9 340.2 366.6 392.9 419.3 445.6 472 498.3 524.7 551 577.4 603.7 630.1 656.4 682.8 709.1 735.5 761.8 788.2 814.5 840.9 867.2 893.6 919.9 946.3 972.6 999 1025.3 1051.7 1078 1104.4 1130.7 1157.1 1183.4 1209.8 1236.1 1262.5 1288.8 1315.2 1341.5 1367.9 1394.2 1420.6 1446.9 1473.3 1499.6">∅∅∅∅∅∅∅∅∅∅∅∅∅∅∅∅∅∅∅∅∅∅∅∅∅∅∅∅∅∅∅∅∅∅∅∅∅∅∅∅∅∅∅∅∅∅∅∅</text>
<text class="tk" y="583" x="24 50.4 76.7 103.1 129.4 155.8 182.1 208.5 234.8 261.2 287.5 313.9 340.2 366.6 392.9 419.3 445.6 472 498.3 524.7 551 577.4 603.7 630.1 656.4 682.8 709.1 735.5 761.8 788.2 814.5 840.9 867.2 893.6 919.9 946.3 972.6 999 1025.3 1051.7 1078 1104.4 1130.7 1157.1 1183.4 1209.8 1236.1 1262.5 1288.8 1315.2 1341.5 1367.9 1394.2 1420.6 1446.9 1473.3 1499.6">∅∅∅∅∅∅∅∅∅∅∅∅∅∅∅∅∅∅∅∅∅∅∅∅∅∅∅∅∅∅∅∅∅∅∅∅∅∅∅∅∅∅∅∅∅∅∅∅∅∅∅∅∅∅∅∅∅</text>
<text class="tk" y="617" x="24 50.4 76.7 103.1 129.4 155.8 182.1 208.5">∅∅∅∅∅∅∅∅</text>
</g>

<!-- Tokens S2 step 0 -->
<g id="tokens-s2-step0" transform="translate(280,480) scale(0.333333)">
<use href="#s2r1" y="20" class="b e"/>
<use href="#s2r2" y="54.5" class="b e"/>
<use href="#s2r3" y="89" class="b e"/>
<use href="#s2r4" y="123.5" class="b e"/>
<use href="#s2r5" y="158" class="b e"/>
<use href="#s2r6" y="192.5" class="b e"/>
<use href="#s2r7" y="227" class="b e"/>
<path class="b p1" transform="translate(0,227)" d="M806 0H826V24H806Z"/>
<use href="#po3" y="227" class="b po"/>
<text class="tk" y="246"><tspan x="816">.</tspan><tspan x="854">The</tspan><tspan x="919.5">answer</tspan><tspan x="980.5">is</tspan></text>
<path class="b e" transform="translate(0,261.5)" d="M13 0H37V24H13Z"/>
<text class="tk" x="25" y="280.5">∅</text>
</g>

<!-- Tokens S2 step t -->
<g id="tokens-s2-stept" transform="translate(280,605) scale(0.333333)">
<use href="#s2r1" y="35" class="b p1"/>
<path class="b p0" transform="translate(0,35)" d="M13 0H50V24H13ZM54 0H86V24H54Z"/>
<path class="b p2" transform="translate(0,35)" d="M973 0H1064V24H973Z"/>
<text class="tk" y="54"><tspan x="31.5">\n</tspan><tspan x="70">To</tspan><tspan x="146.5">determine</tspan><tspan x="230">how</tspan><tspan x="284.5">much</tspan><tspan x="354">money</tspan><tspan x="426.5">Terry</tspan><tspan x="496">makes</tspan><tspan x="550">in</tspan><tspan x="605.5">total</tspan><tspan x="655">,</tspan><tspan x="683.5">we</tspan><tspan x="732.5">need</tspan><tspan x="785">to</tspan><tspan x="862.5">calculate</tspan><tspan x="946.5">the</tspan><tspan x="1018.5">revenue</tspan><tspan x="1097.5">from</tspan><tspan x="1158">each</tspan><tspan x="1218">type</tspan><tspan x="1268">of</tspan><tspan x="1318">item</tspan><tspan x="1413">separately</tspan><tspan x="1502.5">and</tspan></text>
<use href="#s2r2" y="69.5" class="b p1"/>
<path class="b p2" transform="translate(0,69.5)" d="M1155 0H1175V24H1155ZM1181 0H1200V24H1181ZM1206 0H1227V24H1206ZM1232 0H1253V24H1232ZM1259 0H1280V24H1259ZM1286 0H1341V24H1286ZM1347 0H1367V24H1347ZM1373 0H1406V24H1373ZM1412 0H1422V24H1412ZM1427 0H1448V24H1427Z"/>
<text class="tk" y="88.5"><tspan x="41.5">then</tspan><tspan x="92.5">sum</tspan><tspan x="152">these</tspan><tspan x="241.5">amounts</tspan><tspan x="303">.</tspan><tspan x="334">\n</tspan><tspan x="372">\n</tspan><tspan x="403">1</tspan><tspan x="429">.</tspan><tspan x="462">**</tspan><tspan x="506">Mil</tspan><tspan x="554">ksh</tspan><tspan x="610">akes</tspan><tspan x="664.5">:**</tspan><tspan x="709.5">\n</tspan><tspan x="760">-</tspan><tspan x="807.5">Terry</tspan><tspan x="878.5">sells</tspan><tspan x="942.5">6</tspan><tspan x="980">mil</tspan><tspan x="1028.5">ksh</tspan><tspan x="1082.5">akes</tspan><tspan x="1165">$</tspan><tspan x="1190.5">5</tspan><tspan x="1216.5">.</tspan><tspan x="1242.5">5</tspan><tspan x="1269.5">0</tspan><tspan x="1313.5">each</tspan><tspan x="1357">.</tspan><tspan x="1389.5">\n</tspan><tspan x="1437.5">-</tspan></text>
<use href="#s2r3" y="104" class="b e"/>
<path class="b p3" transform="translate(0,104)" d="M13 0H103V24H13ZM108 0H163V24H108ZM170 0H212V24H170ZM218 0H262V24H218ZM268 0H325V24H268ZM355 0H387V24H355ZM393 0H403V24H393ZM408 0H428V24H408ZM433 0H455V24H433ZM460 0H530V24H460ZM535 0H545V24H535ZM550 0H570V24H550ZM575 0H595V24H575ZM600 0H620V24H600ZM625 0H648V24H625ZM653 0H675V24H653ZM680 0H690V24H680ZM695 0H715V24H695ZM720 0H745V24H720ZM849 0H878V24H849ZM1256 0H1283V24H1256ZM1288 0H1298V24H1288ZM1303 0H1320V24H1303ZM1325 0H1392V24H1325Z"/>
<path class="b p4" transform="translate(0,104)" d="M1198 0H1250V24H1198Z"/>
<text class="tk" y="123"><tspan x="58">Revenue</tspan><tspan x="135.5">from</tspan><tspan x="191">mil</tspan><tspan x="240">ksh</tspan><tspan x="296.5">akes</tspan><tspan x="371">\(</tspan><tspan x="418">6</tspan><tspan x="444">\</tspan><tspan x="495">times</tspan><tspan x="560">5</tspan><tspan x="585">.</tspan><tspan x="610">5</tspan><tspan x="636.5">0</tspan><tspan x="664">=</tspan><tspan x="705">3</tspan><tspan x="732.5">3</tspan><tspan x="863.5">\n</tspan><tspan x="1224">:**</tspan><tspan x="1269.5">\n</tspan><tspan x="1311.5">-</tspan><tspan x="1358.5">Terry</tspan></text>
<use href="#s2r4" y="138.5" class="b e"/>
<path class="b p4" transform="translate(0,138.5)" d="M13 0H93V24H13ZM98 0H153V24H98ZM158 0H213V24H158Z"/>
<path class="b p3" transform="translate(0,138.5)" d="M309 0H330V24H309ZM398 0H418V24H398ZM742 0H797V24H742Z"/>
<text class="tk" y="157.5"><tspan x="53">burger</tspan><tspan x="125.5">plat</tspan><tspan x="185.5">ters</tspan><tspan x="319.5">1</tspan><tspan x="408">.</tspan><tspan x="769.5">plat</tspan></text>
<use href="#s2r5" y="173" class="b e"/>
<use href="#s2r6" y="207.5" class="b e"/>
<path class="b p3" transform="translate(0,207.5)" d="M1316 0H1336V24H1316ZM1341 0H1362V24H1341ZM1368 0H1390V24H1368ZM1395 0H1415V24H1395ZM1420 0H1445V24H1420ZM1451 0H1473V24H1451ZM1478 0H1513V24H1478Z"/>
<text class="tk" y="226.5"><tspan x="1326">3</tspan><tspan x="1351.5">3</tspan><tspan x="1379">+</tspan><tspan x="1432.5">9</tspan><tspan x="1462">9</tspan><tspan x="1495.5">+</tspan></text>
<use href="#s2r7" y="242" class="b e"/>
<path class="b p3" transform="translate(0,242)" d="M13 0H37V24H13ZM42 0H62V24H42ZM68 0H100V24H68ZM106 0H128V24H106ZM134 0H155V24H134Z"/>
<path class="b p1" transform="translate(0,242)" d="M226 0H258V24H226ZM263 0H295V24H263ZM300 0H413V24H300ZM419 0H438V24H419ZM443 0H513V24H443ZM518 0H585V24H518ZM590 0H610V24H590ZM615 0H683V24H615ZM690 0H718V24H690ZM723 0H745V24H723ZM750 0H770V24H750ZM776 0H800V24H776ZM806 0H826V24H806ZM1002 0H1013V24H1002ZM1018 0H1040V24H1018ZM1046 0H1068V24H1046ZM1073 0H1093V24H1073ZM1098 0H1220V24H1098ZM1226 0H1246V24H1226ZM1252 0H1272V24H1252ZM1278 0H1300V24H1278ZM1306 0H1330V24H1306ZM1335 0H1355V24H1335ZM1361 0H1383V24H1361ZM1388 0H1410V24H1388ZM1415 0H1436V24H1415ZM1441 0H1462V24H1441ZM1467 0H1487V24H1467ZM1492 0H1512V24H1492Z"/>
<use href="#po3" y="242" class="b po"/>
<text class="tk" y="261"><tspan x="25">3</tspan><tspan x="52">0</tspan><tspan x="84">=</tspan><tspan x="144.5">9</tspan><tspan x="242">\n</tspan><tspan x="279">\n</tspan><tspan x="356.5">Therefore</tspan><tspan x="428.5">,</tspan><tspan x="478">Terry</tspan><tspan x="551.5">makes</tspan><tspan x="600">a</tspan><tspan x="649">total</tspan><tspan x="704">of</tspan><tspan x="734">$</tspan><tspan x="760">9</tspan><tspan x="816">.</tspan><tspan x="854">The</tspan><tspan x="919.5">answer</tspan><tspan x="980.5">is</tspan><tspan x="1029">9</tspan><tspan x="1083">.</tspan><tspan x="1159">&lt;|eot_id|&gt;</tspan></text>
<text class="tk" y="261" x="1236 1262 1289 1318 1345 1372 1399 1425.5 1451.5 1477 1502">∅∅∅∅∅∅∅∅∅∅∅</text>
<path class="b e" transform="translate(0,276.5)" d="M13 0H37V24H13Z"/>
<text class="tk" x="25" y="295.5">∅</text>
</g>

<!-- Tokens S3 step 0 -->
<g id="tokens-s3-step0" transform="translate(280,925) scale(0.333333)">
<use href="#s3r1" y="30" class="b e"/>
<use href="#s3r2" y="64.5" class="b e"/>
<use href="#s3r3" y="99" class="b e"/>
<use href="#s3r4" y="133.5" class="b e"/>
<use href="#s3r5" y="168" class="b e"/>
<use href="#s3r6" y="202.5" class="b e"/>
<use href="#s3r7a" y="237" class="b e"/>
<use href="#s3r7b" y="237" class="b e"/>
<path class="b po" transform="translate(0,237)" d="M645 0H693V24H645ZM695 0H778V24H695ZM780 0H815V24H780Z"/>
<text class="tk" y="256"><tspan x="669">The</tspan><tspan x="736.5">answer</tspan><tspan x="797.5">is</tspan><tspan x="1331.5">∅</tspan><tspan x="1411.5">∅</tspan></text>
</g>

<!-- Tokens S3 step t -->
<g id="tokens-s3-stept" transform="translate(280,1055) scale(0.333333)">
<use href="#s3r1" y="32" class="b p1"/>
<path class="b p2" transform="translate(0,32)" d="M348 0H438V24H348Z"/>
<text class="tk" y="51"><tspan x="30.5">\n</tspan><tspan x="81">Step</tspan><tspan x="139">1</tspan><tspan x="165">:</tspan><tspan x="236.5">Calculate</tspan><tspan x="320.5">the</tspan><tspan x="393">revenue</tspan><tspan x="470.5">from</tspan><tspan x="525">the</tspan><tspan x="574.5">mil</tspan><tspan x="624.5">ksh</tspan><tspan x="679.5">akes</tspan><tspan x="722.5">.</tspan><tspan x="755.5">\n</tspan><tspan x="809.5">Terry</tspan><tspan x="882.5">sells</tspan><tspan x="946">6</tspan><tspan x="983.5">mil</tspan><tspan x="1033.5">ksh</tspan><tspan x="1089.5">akes</tspan><tspan x="1169">$</tspan><tspan x="1195">5</tspan><tspan x="1221.5">.</tspan><tspan x="1248">5</tspan><tspan x="1275">0</tspan><tspan x="1319.5">each</tspan><tspan x="1362.5">.</tspan><tspan x="1394">\n</tspan><tspan x="1433.5">\[</tspan><tspan x="1482">6</tspan><tspan x="1507">\</tspan></text>
<use href="#s3r2" y="66.5" class="b p1"/>
<path class="b p2" transform="translate(0,66.5)" d="M456 0H500V24H456ZM505 0H595V24H505ZM601 0H655V24H601ZM661 0H705V24H661ZM711 0H753V24H711ZM759 0H803V24H759ZM809 0H865V24H809ZM870 0H903V24H870ZM908 0H930V24H908ZM936 0H957V24H936ZM962 0H985V24H962ZM991 0H1005V24H991Z"/>
<text class="tk" y="85.5"><tspan x="48">times</tspan><tspan x="112.5">5</tspan><tspan x="138">.</tspan><tspan x="164">5</tspan><tspan x="190">0</tspan><tspan x="214">=</tspan><tspan x="261">3</tspan><tspan x="287">3</tspan><tspan x="313">\</tspan><tspan x="339">]</tspan><tspan x="370.5">\n</tspan><tspan x="407">So</tspan><tspan x="439.5">,</tspan><tspan x="478">the</tspan><tspan x="550">revenue</tspan><tspan x="628">from</tspan><tspan x="683">the</tspan><tspan x="732">mil</tspan><tspan x="781">ksh</tspan><tspan x="837">akes</tspan><tspan x="886.5">is</tspan><tspan x="919">$</tspan><tspan x="946.5">3</tspan><tspan x="973.5">3</tspan><tspan x="998">.</tspan><tspan x="1028">\n</tspan><tspan x="1067">\n</tspan><tspan x="1118.5">Step</tspan><tspan x="1175">2</tspan><tspan x="1200">:</tspan><tspan x="1273">Calculate</tspan><tspan x="1358">the</tspan><tspan x="1430.5">revenue</tspan></text>
<use href="#s3r3" y="101" class="b p3"/>
<text class="tk" y="120"><tspan x="41.5">from</tspan><tspan x="96.5">the</tspan><tspan x="163.5">burger</tspan><tspan x="235">plat</tspan><tspan x="296.5">ters</tspan><tspan x="340">.</tspan><tspan x="371.5">\n</tspan><tspan x="426.5">Terry</tspan><tspan x="499.5">sells</tspan><tspan x="561.5">9</tspan><tspan x="618">burger</tspan><tspan x="690.5">plat</tspan><tspan x="749">ters</tspan><tspan x="831.5">$</tspan><tspan x="859.5">1</tspan><tspan x="886">1</tspan><tspan x="929.5">each</tspan><tspan x="971.5">.</tspan><tspan x="1002.5">\n</tspan><tspan x="1043">\[</tspan><tspan x="1090">9</tspan><tspan x="1115">\</tspan><tspan x="1165">times</tspan><tspan x="1229.5">1</tspan><tspan x="1256">1</tspan><tspan x="1283">=</tspan><tspan x="1322">9</tspan><tspan x="1349">9</tspan><tspan x="1377">\</tspan><tspan x="1404.5">]</tspan><tspan x="1435">\n</tspan><tspan x="1472.5">So</tspan><tspan x="1505.5">,</tspan></text>
<use href="#s3r4" y="135.5" class="b e"/>
<path class="b p4" transform="translate(0,135.5)" d="M13 0H57V24H13ZM62 0H155V24H62ZM160 0H213V24H160ZM219 0H262V24H219ZM268 0H345V24H268ZM352 0H408V24H352ZM414 0H468V24H414ZM473 0H505V24H473ZM510 0H530V24H510ZM536 0H558V24H536ZM563 0H585V24H563ZM590 0H612V24H590ZM617 0H646V24H617ZM652 0H686V24H652Z"/>
<text class="tk" y="154.5"><tspan x="35">the</tspan><tspan x="108.5">revenue</tspan><tspan x="186.5">from</tspan><tspan x="240.5">the</tspan><tspan x="306.5">burger</tspan><tspan x="380">plat</tspan><tspan x="441">ters</tspan><tspan x="489">is</tspan><tspan x="520">$</tspan><tspan x="547">9</tspan><tspan x="574">9</tspan><tspan x="601">.</tspan><tspan x="631.5">\n</tspan><tspan x="669">\n</tspan></text>
<use href="#s3r5" y="170" class="b e"/>
<use href="#s3r6" y="204.5" class="b e"/>
<use href="#s3r7a" y="239" class="b e"/>
<path class="b po" transform="translate(0,239)" d="M645 0H693V24H645ZM695 0H778V24H695ZM780 0H815V24H780Z"/>
<path class="b e" transform="translate(0,239)" d="M1191 0H1211V24H1191ZM1216 0H1236V24H1216ZM1241 0H1262V24H1241ZM1267 0H1288V24H1267ZM1293 0H1313V24H1293ZM1318 0H1340V24H1318ZM1345 0H1367V24H1345ZM1372 0H1393V24H1372ZM1398 0H1420V24H1398Z"/>
<text class="tk" y="258"><tspan x="669">The</tspan><tspan x="736.5">answer</tspan><tspan x="797.5">is</tspan></text>
<text class="tk" y="258" x="1201 1226 1251.5 1277.5 1303 1329 1356 1382.5 1409">∅∅∅∅∅∅∅∅∅</text>
</g>

<!-- Red dashed highlight boxes -->
<g id="highlights">
<rect class="rd" x="240.7" y="121.7" width="23.3" height="106.6"/>
<rect class="rd" x="183.3" y="251" width="80.7" height="110"/>
<rect class="rd" x="227.7" y="479" width="36.3" height="114"/>
<rect class="rd" x="227.7" y="612.3" width="36.3" height="112.7"/>
<rect class="rd" x="361.7" y="680" width="333.3" height="18.3"/>
<rect class="rd" x="227.7" y="928" width="36.3" height="115"/>
<rect class="rd" x="227.7" y="1061.7" width="36.3" height="112.3"/>
<rect class="rd" x="340" y="1128.3" width="342.7" height="17.4"/>
</g>

<!-- Generation S1 -->
<g id="gen-s1">
<rect x="97" y="371" width="699" height="62" fill="#bdbdbd"/>
<rect x="95" y="369" width="699" height="62" fill="#ececec" stroke="#d5d5d5" stroke-width="0.6"/>
<rect x="110" y="399" width="195" height="16" fill="#f2d0d3"/>
<text class="gen" x="115.6" y="391.7" textLength="625" lengthAdjust="spacingAndGlyphs">\nTo find out how much money Terry makes in total, we need to calculate the earnings from each type of item</text>
<text class="gen" x="115.6" y="408.3" textLength="185" lengthAdjust="spacingAndGlyphs">and then sum them up.&lt;|eot_id|&gt;</text>
<text class="res" x="609" y="424" fill="#cc0000" textLength="166" lengthAdjust="spacingAndGlyphs">→ Incomplete Generation</text>
</g>

<!-- Generation S2 -->
<g id="gen-s2">
<rect x="96" y="735" width="698" height="143" fill="#bdbdbd"/>
<rect x="94" y="733" width="698" height="143" fill="#ececec" stroke="#d5d5d5" stroke-width="0.6"/>
<rect x="714" y="824" width="34" height="18.5" fill="#f2d0d3"/>
<rect x="109" y="840.7" width="81" height="17.3" fill="#f2d0d3"/>
<text class="gen" xml:space="preserve" x="116.5" y="753" textLength="633.5" lengthAdjust="spacingAndGlyphs">\nTo determine how much money Terry makes in total, we need to calculate the revenue from each type of item</text>
<text class="gen" xml:space="preserve" x="116.5" y="769.9" textLength="633.5" lengthAdjust="spacingAndGlyphs">separately and then sum these amounts.\n\n1. **Milkshakes:**\n   - Terry sells 6 milkshakes at $5.50 each.\n   -</text>
<text class="gen" xml:space="preserve" x="116.5" y="786.8" textLength="637.5" lengthAdjust="spacingAndGlyphs">Revenue from milkshakes: \( 6 \times 5.50 = 33 \).\n\n2. **Burger platters:**\n   - Terry sells 9 burger platters at</text>
<text class="gen" xml:space="preserve" x="116.5" y="803.7" textLength="635.5" lengthAdjust="spacingAndGlyphs">$11 each.\n   - Revenue from burger platters: \( 9 \times 11 = 99 \).\n\n3. **Sodas:**\n   - Terry sells 20 sodas at</text>
<text class="gen" xml:space="preserve" x="116.5" y="820.6" textLength="647.5" lengthAdjust="spacingAndGlyphs">$1.50 each.\n   - Revenue from sodas: \( 20 \times 1.50 = 30 \).\n\nNow, we sum the revenues from all the items to</text>
<text class="gen" xml:space="preserve" x="116.5" y="837.5" textLength="623.5" lengthAdjust="spacingAndGlyphs">find the total revenue:\n- Total revenue: \( 33 + 99 + 30 = 99 \).\n\nTherefore, Terry makes a total of $99. The</text>
<text class="gen" x="116.5" y="854.4" textLength="129.5" lengthAdjust="spacingAndGlyphs">answer is 99.&lt;|eot_id|&gt;</text>
<text class="res" x="493" y="863" fill="#cc0000" textLength="281" lengthAdjust="spacingAndGlyphs">→ Early Commitment of Inaccurate Answer</text>
</g>

<!-- Generation S3 -->
<g id="gen-s3">
<rect x="96" y="1184" width="698" height="135" fill="#bdbdbd"/>
<rect x="94" y="1182" width="698" height="135" fill="#ececec" stroke="#d5d5d5" stroke-width="0.6"/>
<rect x="368" y="1276" width="165" height="19" fill="#d4e9dc"/>
<text class="gen" x="116.5" y="1203" textLength="653.5" lengthAdjust="spacingAndGlyphs">\nStep 1: Calculate the revenue from the milkshakes.\nTerry sells 6 milkshakes at $5.50 each.\n\[ 6 \times 5.50 = 33</text>
<text class="gen" x="116.5" y="1219.7" textLength="667.5" lengthAdjust="spacingAndGlyphs">\]\nSo, the revenue from the milkshakes is $33.\n\nStep 2: Calculate the revenue from the burger platters.\nTerry sells</text>
<text class="gen" x="116.5" y="1236.4" textLength="630.5" lengthAdjust="spacingAndGlyphs">9 burger platters at $11 each.\n\[ 9 \times 11 = 99 \]\nSo, the revenue from the burger platters is $99.\n\nStep 3:</text>
<text class="gen" x="116.5" y="1253.1" textLength="661.5" lengthAdjust="spacingAndGlyphs">Calculate the revenue from the sodas.\nTerry sells 20 sodas at $1.50 each.\n\[ 20 \times 1.50 = 30 \]\nSo, the revenue</text>
<text class="gen" x="116.5" y="1269.8" textLength="665.5" lengthAdjust="spacingAndGlyphs">from the sodas is $30.\n\nStep 4: Add the revenues from all the items to find the total revenue.\n\[ 33 + 99 + 30 = 162</text>
<text class="gen" x="116.5" y="1286.5" textLength="473.5" lengthAdjust="spacingAndGlyphs">\]\n\nTherefore, Terry makes a total of $162. The answer is \boxed{162}.&lt;|eot_id|&gt;</text>
<text class="res" x="658" y="1303" fill="#2e7d32" textLength="116" lengthAdjust="spacingAndGlyphs">→ Correct Answer</text>
</g>
</svg>
